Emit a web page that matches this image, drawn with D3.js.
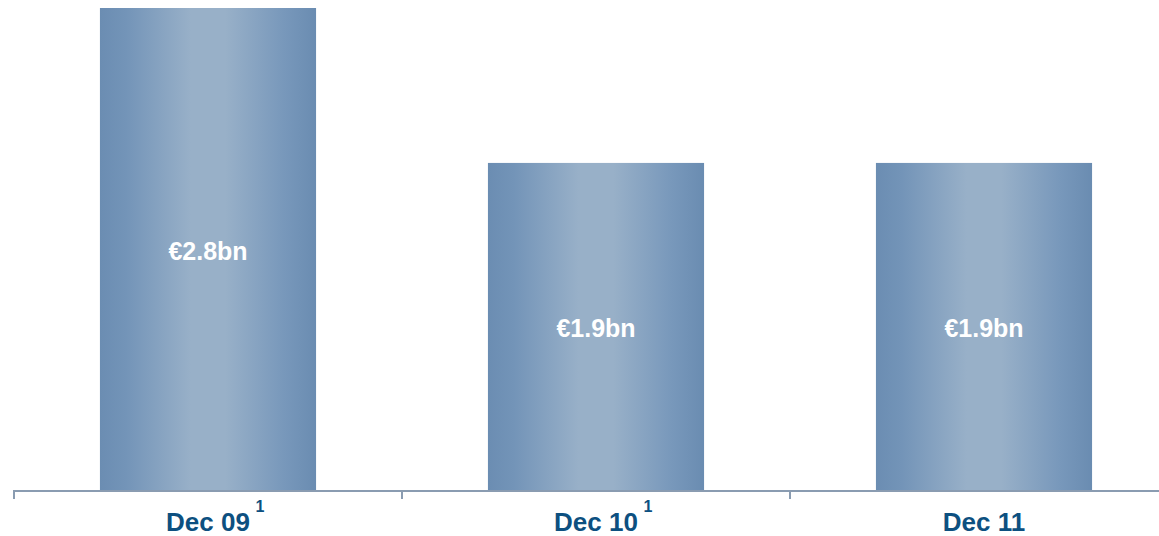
<!DOCTYPE html>
<html>
<head>
<meta charset="utf-8">
<script src="https://cdn.jsdelivr.net/npm/d3@7/dist/d3.min.js"></script>
<style>
  body { margin: 0; background: #fff; }
  text { font-family: Arial, "Liberation Sans", sans-serif; font-weight: bold; }
</style>
</head>
<body>
<svg id="chart" width="1159" height="536"></svg>
<script>
// chart data
const categories = ["Dec 09", "Dec 10", "Dec 11"];
const footnotes = ["1", "1", ""];
const values = [2.8, 1.9, 1.9];
const valueLabels = ["€2.8bn", "€1.9bn", "€1.9bn"];

const svg = d3.select('#chart');
const plotLeft = 14, plotRight = 1178, plotTop = 8, plotBottom = 490;

const x = d3.scaleBand().domain(categories).range([plotLeft, plotRight]).paddingInner(0.443).paddingOuter(0.2215);
const y = d3.scaleLinear().domain([0, d3.max(values)]).range([plotBottom, plotTop]);

// bar gradient (dark edges, light middle)
const grad = svg.append('defs').append('linearGradient')
    .attr('id', 'barGrad').attr('x1', '0%').attr('x2', '100%').attr('y1', '0%').attr('y2', '0%');
[[0, '#6b8db2'], [0.12, '#7394b8'], [0.42, '#98b0c8'], [0.58, '#98b0c8'], [0.85, '#7898bb'], [1, '#6a8cb1']]
    .forEach(s => grad.append('stop').attr('offset', s[0]).attr('stop-color', s[1]));

svg.selectAll('.bar')
    .data(values)
    .enter().append('rect')
    .attr('class', 'bar')
    .attr('x', (d, i) => x(categories[i]))
    .attr('y', d => y(d))
    .attr('width', x.bandwidth())
    .attr('height', d => plotBottom - y(d))
    .attr('fill', 'url(#barGrad)');

// value labels inside bars
svg.selectAll('.val')
    .data(values)
    .enter().append('text')
    .attr('class', 'val')
    .attr('x', (d, i) => x(categories[i]) + x.bandwidth() / 2)
    .attr('y', d => (y(d) + plotBottom) / 2)
    .attr('dy', '0.42em')
    .attr('text-anchor', 'middle')
    .attr('fill', '#fff')
    .attr('font-size', 25)
    .text((d, i) => valueLabels[i]);

// axis line + ticks at band boundaries
const axis = svg.append('g').attr('stroke', '#8a9cb1').attr('stroke-width', 2);
axis.append('line').attr('x1', plotLeft).attr('x2', 1159).attr('y1', plotBottom + 1).attr('y2', plotBottom + 1);
const step = x.step();
d3.range(categories.length + 1).forEach(i => {
    const tx = plotLeft + i * step;
    axis.append('line').attr('x1', tx).attr('x2', tx).attr('y1', plotBottom).attr('y2', plotBottom + 9);
});

// category labels with footnote marks
svg.selectAll('.cat')
    .data(categories)
    .enter().append('text')
    .attr('class', 'cat')
    .attr('x', d => x(d) + x.bandwidth() / 2)
    .attr('y', 531)
    .attr('text-anchor', 'middle')
    .attr('fill', '#0d5080')
    .attr('font-size', 26)
    .text(d => d);

svg.selectAll('.fn')
    .data(categories)
    .enter().append('text')
    .attr('class', 'fn')
    .attr('x', d => x(d) + x.bandwidth() / 2 + 52)
    .attr('y', 512)
    .attr('text-anchor', 'middle')
    .attr('fill', '#0d5080')
    .attr('font-size', 16)
    .text((d, i) => footnotes[i]);
</script>
</body>
</html>
